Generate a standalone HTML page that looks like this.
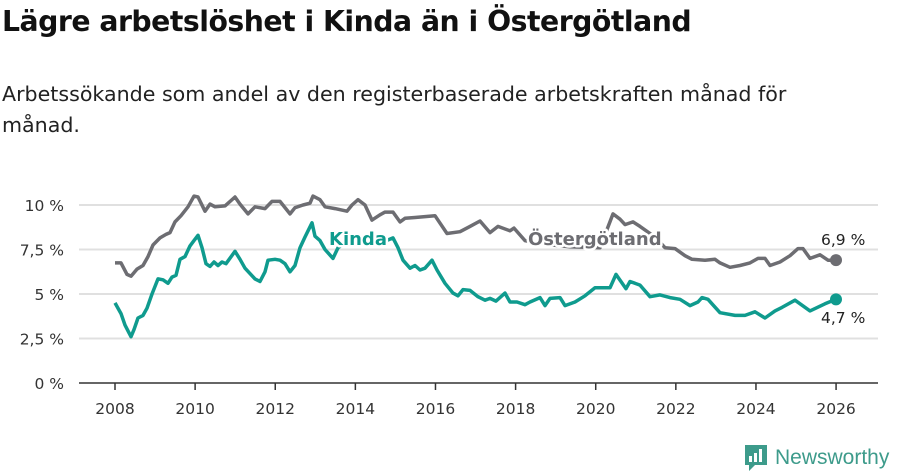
<!DOCTYPE html>
<html><head><meta charset="utf-8">
<style>
body{margin:0;width:900px;height:474px;background:#fff;font-family:"Liberation Sans","DejaVu Sans",sans-serif;overflow:hidden;position:relative}
#title{position:absolute;left:2px;top:5px;font-size:28.3px;font-weight:bold;color:#111;font-family:"DejaVu Sans",sans-serif;letter-spacing:-0.5px}
#sub{position:absolute;left:2px;top:79px;width:830px;font-size:20.6px;line-height:31px;color:#222;font-family:"DejaVu Sans",sans-serif}
svg{position:absolute;left:0;top:0}
</style></head><body>
<div id="title">Lägre arbetslöshet i Kinda än i Östergötland</div>
<div id="sub">Arbetssökande som andel av den registerbaserade arbetskraften månad för månad.</div>
<svg id="chart" width="900" height="474"></svg>
<script>
const yTicks=[0,2.5,5,7.5,10];
const yTickLabels=["0 %","2,5 %","5 %","7,5 %","10 %"];
const xTicks=[2008,2010,2012,2014,2016,2018,2020,2022,2024,2026];
const kindaX=[115,121,125,131,134,138,143,147,152,158,163,168,172,176,180,185,190,194,198,202,206,210,214,218,222,226,235,240,245,255,260,265,268,275,280,285,290,295,300,305,312,315,320,325,333,338,345,360,380,393,398,403,410,415,420,425,432,437,445,453,458,463,470,478,485,490,496,505,510,517,525,530,540,545,550,560,565,575,585,595,610,616,626,630,640,650,660,670,680,690,698,702,708,712,720,735,745,755,765,775,782,795,810,825,836];
const kindaV=[4.5,3.9,3.25,2.6,3.0,3.65,3.8,4.2,5.0,5.85,5.8,5.6,5.95,6.05,6.95,7.1,7.7,8.0,8.3,7.6,6.7,6.55,6.8,6.6,6.8,6.7,7.4,6.95,6.45,5.85,5.7,6.25,6.9,6.95,6.9,6.7,6.25,6.6,7.6,8.2,9.0,8.25,8.0,7.5,7.0,7.6,7.85,7.8,7.85,8.15,7.6,6.9,6.45,6.6,6.35,6.45,6.9,6.35,5.6,5.05,4.9,5.25,5.2,4.85,4.65,4.75,4.6,5.05,4.55,4.55,4.4,4.55,4.8,4.35,4.75,4.8,4.35,4.55,4.9,5.35,5.35,6.1,5.3,5.7,5.5,4.85,4.95,4.8,4.7,4.35,4.55,4.8,4.7,4.45,3.95,3.8,3.8,4.0,3.65,4.05,4.25,4.65,4.05,4.45,4.7];
const ostX=[115,121,127,131,137,143,148,153,160,166,170,175,181,188,194,198,205,210,215,225,235,240,248,255,265,272,280,290,295,303,310,313,320,325,335,347,352,358,365,372,380,385,393,400,405,415,435,447,460,470,480,490,498,510,514,525,545,570,600,613,620,625,633,640,655,665,675,685,692,705,715,720,730,740,750,758,765,770,780,790,798,803,810,820,828,836];
const ostV=[6.75,6.75,6.1,6.0,6.4,6.6,7.1,7.75,8.15,8.35,8.45,9.05,9.4,9.9,10.5,10.45,9.65,10.05,9.9,9.95,10.45,10.05,9.5,9.9,9.8,10.2,10.2,9.5,9.85,10.0,10.1,10.5,10.3,9.9,9.8,9.65,10.0,10.3,10.0,9.15,9.45,9.6,9.6,9.05,9.25,9.3,9.4,8.4,8.5,8.8,9.1,8.45,8.8,8.55,8.7,8.0,7.8,7.65,7.6,9.5,9.2,8.9,9.05,8.8,8.2,7.6,7.55,7.15,6.95,6.9,6.95,6.75,6.5,6.6,6.75,7.0,7.0,6.6,6.8,7.15,7.55,7.55,7.0,7.2,6.9,6.9];
const svg=document.getElementById('chart');
const NS='http://www.w3.org/2000/svg';
const y=v=>383-v*17.8;
const x=yr=>115+(yr-2008)*40.06;
const px2yr=p=>2008+(p-115)/40.06;
function mk(t,a,txt){const e=document.createElementNS(NS,t);for(const k in a)e.setAttribute(k,a[k]);if(txt!==undefined)e.textContent=txt;svg.appendChild(e);return e;}
const F='"DejaVu Sans",sans-serif';
yTicks.forEach((v,i)=>{
 if(v>0){const g=mk('line',{x1:79,x2:878,y1:y(v),y2:y(v),stroke:'#e0e0e0','stroke-width':2});
 
 }
 const t=mk('text',{x:64,y:y(v)+6,'text-anchor':'end','font-size':15.5,fill:'#333','font-family':F},yTickLabels[i]);
 
 
});
const ax=mk('line',{x1:79,x2:878,y1:383,y2:383,stroke:'#333','stroke-width':1.5});


xTicks.forEach(v=>{
 const tk=mk('line',{x1:x(v),x2:x(v),y1:383,y2:390,stroke:'#333','stroke-width':1.5});
 
 
 const t=mk('text',{x:x(v),y:414,'text-anchor':'middle','font-size':15.5,fill:'#333','font-family':F},String(v));
 
 
});
function line(xs,vs,col,name){
 const d=xs.map((p,i)=>(i?'L':'M')+x(px2yr(p)).toFixed(1)+','+y(vs[i]).toFixed(1)).join('');
 const l=mk('path',{d:d,fill:'none',stroke:col,'stroke-width':3.5,'stroke-linejoin':'round'});
 
 
 const n=xs.length-1;
 const c=mk('circle',{cx:x(px2yr(xs[n])),cy:y(vs[n]),r:6,fill:col});
 
 
}
line(ostX,ostV,'#6d6d72','ostergotland');
line(kindaX,kindaV,'#0f9b8e','kinda');
function lab(tx,xx,yy,col,name,size,bold,halo){
 const a={x:xx,y:yy,'font-size':size,fill:col,'font-family':F};
 if(bold)a['font-weight']='bold';
 if(halo){a.stroke='#fff';a['stroke-width']=5;a['paint-order']='stroke';a['stroke-linejoin']='round';}
 const t=mk('text',a,tx);
 
 
}
lab('Kinda',329,245,'#0f9b8e','kinda-label',18,true,true);
lab('Östergötland',528,245,'#6d6d72','ostergotland-label',18,true,true);
lab('6,9 %',821,245,'#222','ostergotland-last-value',15.5,false,true);
lab('4,7 %',821,323,'#222','kinda-last-value',15.5,false,true);
const g=mk('g',{});


g.innerHTML='<path d="M745,445 h22 v20 h-12 l-6,6 v-6 h-4 z" fill="#3d9b8b"/><rect x="749" y="456" width="3" height="6" fill="#fff"/><rect x="754" y="453" width="3" height="9" fill="#fff"/><rect x="759" y="449" width="3" height="13" fill="#fff"/><text x="775" y="464" font-size="21" fill="#3d9b8b" font-family="Liberation Sans,sans-serif">Newsworthy</text>';
</script>
</body></html>
